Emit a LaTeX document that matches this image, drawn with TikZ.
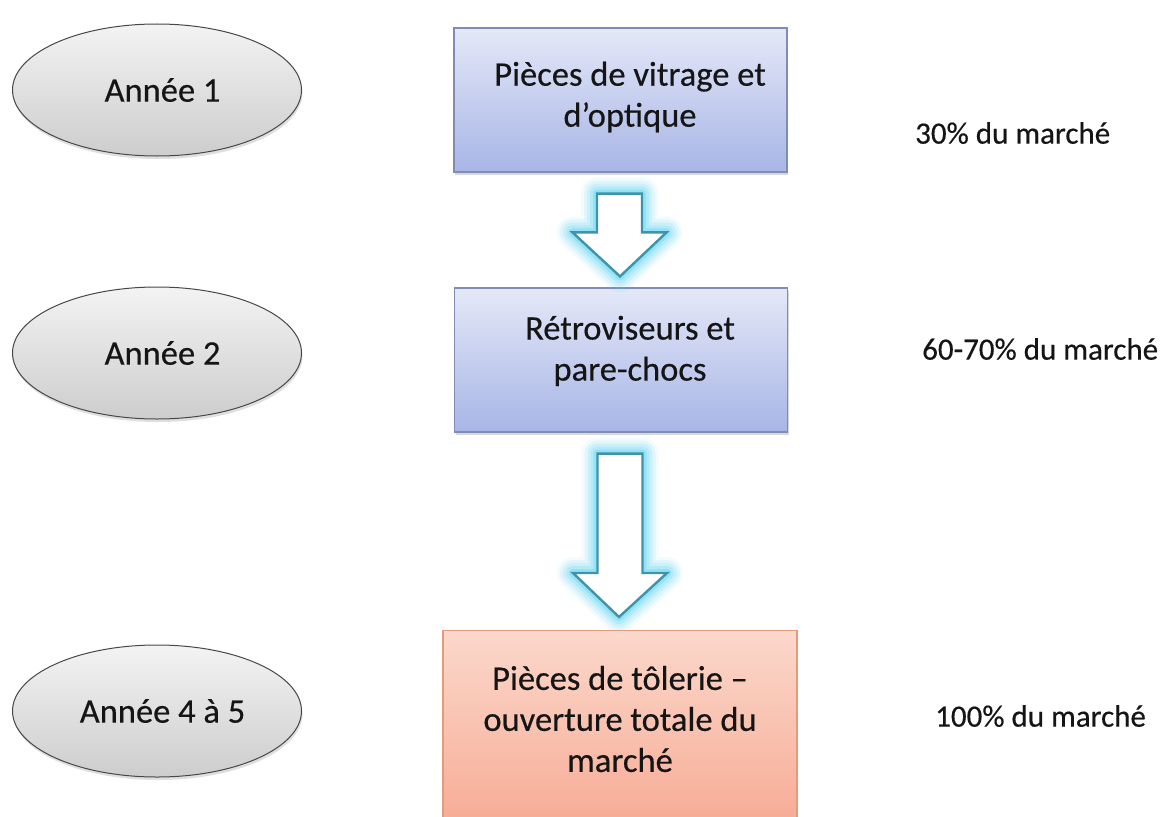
\documentclass[tikz,border=0pt]{standalone}
\usepackage{fontspec}
\setmainfont{Carlito}
\newfontfamily\diagfont[FakeBold=0.4]{Carlito}
\usetikzlibrary{shapes.geometric,shadows,calc}
\definecolor{blueTop}{HTML}{E4E8F8}
\definecolor{blueBot}{HTML}{A8B5E6}
\definecolor{blueBorder}{HTML}{7F8DB2}
\definecolor{redTop}{HTML}{FBD8CB}
\definecolor{redBot}{HTML}{F6A189}
\definecolor{redBorder}{HTML}{E49A7C}
\definecolor{greyTop}{HTML}{F3F3F3}
\definecolor{greyBot}{HTML}{CDCDCD}
\definecolor{arrowline}{HTML}{3F93AA}
\definecolor{glowc}{HTML}{4FD2F2}
\definecolor{txt}{HTML}{151515}
\begin{document}
\begin{tikzpicture}[x=1pt,y=-1pt,
  txtfont/.style={font=\diagfont\fontsize{31}{40}\selectfont, text=txt},
  bigfont/.style={font=\diagfont\fontsize{34.5}{41}\selectfont, text=txt},
  year/.style={ellipse, draw=black!72, line width=1pt, top color=greyTop, bottom color=greyBot,
    minimum width=289pt, minimum height=132pt, inner sep=0pt, bigfont,
    drop shadow={opacity=0.25, shadow xshift=1pt, shadow yshift=-3pt}},
  stage/.style={rectangle, draw=blueBorder, line width=1.2pt, top color=blueTop, bottom color=blueBot,
    minimum width=333pt, minimum height=144pt, align=center,
    drop shadow={opacity=0.3, shadow xshift=1pt, shadow yshift=-3pt}},
  laststage/.style={stage, draw=redBorder, top color=redTop, bottom color=redBot},
  share/.style={txtfont, anchor=west, inner sep=0pt},
  boxtext/.style={bigfont, align=center, inner sep=0pt},
  arrowbody/.style={fill=white, draw=arrowline, line width=2.4pt, line join=miter},
]
\useasboundingbox (0,0) rectangle (1166,816);
\fill[white] (0,0) rectangle (1166,816);

% year ellipses
\node[year] (e1) at (157,90) {\hspace{11pt}Année 1};
\node[year] (e2) at (157,353) {\hspace{11pt}Année 2};
\node[year] (e3) at (157,711) {\hspace{11pt}Année 4 à 5};

% stage boxes
\node[stage] (b1) at (620.5,100) {};
\node[boxtext] (t1) at (630,97) {Pièces de vitrage et\\d’optique};
\node[stage] (b2) at (621,360) {};
\node[boxtext] (t2) at (630,351) {Rétroviseurs et\\pare-chocs};
\node[laststage, minimum width=354pt, minimum height=240pt, anchor=north] (b3) at (620,630) {};
\node[boxtext] (t3) at (620,719) {Pièces de tôlerie –\\ouverture totale du\\marché};

% market shares
\node[share] (r1) at (915,133) {30\% du marché};
\node[share] (r2) at (922,349) {60-70\% du marché};
\node[share] (r3) at (935,716) {100\% du marché};

% block arrows between stages
\coordinate (a1s) at ($(b1.south)+(-1,21)$);
\coordinate (a1e) at ($(b2.north)+(-1,-11)$);
\coordinate (a2s) at ($(b2.south)+(-1,21)$);
\coordinate (a2e) at ($(b3.north)+(-1,-13)$);

\foreach \s/\e in {a1s/a1e, a2s/a2e} {
  \foreach \w/\o in {32/0.07, 26/0.1, 20/0.14, 14/0.2, 8/0.3}
    \draw[glowc, line width=\w pt, opacity=\o, line join=round]
      let \p1=(\s), \p2=(\e) in
      (\x1-22.5pt,\y1) -- (\x1+22.5pt,\y1) -- (\x1+22.5pt,\y2+44pt) -- (\x1+47pt,\y2+44pt)
      -- (\x2,\y2) -- (\x1-47pt,\y2+44pt) -- (\x1-22.5pt,\y2+44pt) -- cycle;
  \filldraw[arrowbody]
      let \p1=(\s), \p2=(\e) in
      (\x1-22.5pt,\y1) -- (\x1+22.5pt,\y1) -- (\x1+22.5pt,\y2+44pt) -- (\x1+47pt,\y2+44pt)
      -- (\x2,\y2) -- (\x1-47pt,\y2+44pt) -- (\x1-22.5pt,\y2+44pt) -- cycle;
}
\end{tikzpicture}
\end{document}
